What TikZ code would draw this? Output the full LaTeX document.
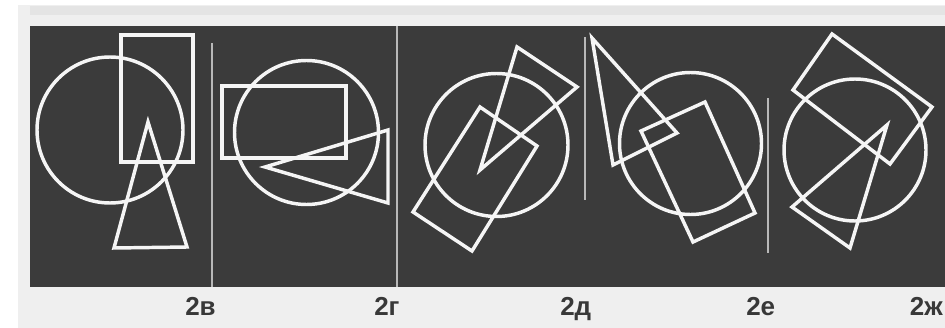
\documentclass[tikz,border=0pt]{standalone}
\usepackage{fontspec}
\newfontfamily\labelfont{Liberation Sans}
\definecolor{paper}{HTML}{EFEFEF}
\definecolor{topband}{HTML}{E4E4E4}
\definecolor{panelgray}{HTML}{3B3B3B}
\definecolor{figwhite}{HTML}{F5F5F5}
\definecolor{divgray}{HTML}{B8B8B8}
\begin{document}
\begin{tikzpicture}[x=0.75pt,y=-0.75pt,
  fig/.style={draw=figwhite, line width=2.6pt, line join=miter},
  divider/.style={draw=divgray, line width=1pt},
  lbl/.style={font=\labelfont\bfseries\fontsize{19.5}{19.5}\selectfont, text=black!78, inner sep=0pt}]
\useasboundingbox (0,0) rectangle (945,328);
\fill[white] (0,0) rectangle (945,328);
\fill[paper] (18,5) rectangle (945,328);
\fill[topband] (30,6) rectangle (945,15);
\fill[panelgray] (30,26) rectangle (945,287);
% dividers
\draw[divider] (212,43) -- (212,287);
\draw[divider] (397,26) -- (397,287);
\draw[divider] (585,37) -- (585,200);
\draw[divider] (768,98) -- (768,253);
% panel 2v
\draw[fig] (110,130) circle (73);
\draw[fig] (121,35) rectangle (193,162);
\draw[fig] (148,122) -- (114,248) -- (187,247) -- cycle;
% panel 2g
\draw[fig] (306.5,132.5) circle (72);
\draw[fig] (222,86) rectangle (346,158);
\draw[fig] (265,167) -- (388,130) -- (388,203) -- cycle;
% panel 2d
\draw[fig] (496.5,145) circle (71.5);
\draw[fig] (517,47) -- (577,87) -- (480,170) -- cycle;
\draw[fig] (480,107) -- (537,146) -- (472,251) -- (413,212) -- cycle;
% panel 2e
\draw[fig] (690.5,143.5) circle (71);
\draw[fig] (592,38) -- (677,133) -- (613,165) -- cycle;
\draw[fig] (705,102) -- (641,131) -- (693,242) -- (755,213) -- cycle;
% panel 2zh
\draw[fig] (855,150) circle (71);
\draw[fig] (832,34) -- (932,107) -- (890,164) -- (793,90) -- cycle;
\draw[fig] (887,125) -- (792,207) -- (850,248) -- cycle;
% labels
\node[lbl, anchor=base west] (l2v) at (185,315) {2в};
\node[lbl, anchor=base west] (l2g) at (374,315) {2г};
\node[lbl, anchor=base west] (l2d) at (560,315) {2д};
\node[lbl, anchor=base west] (l2e) at (746,315) {2е};
\node[lbl, anchor=base east] (l2zh) at (943,315) {2ж};
\end{tikzpicture}
\end{document}
